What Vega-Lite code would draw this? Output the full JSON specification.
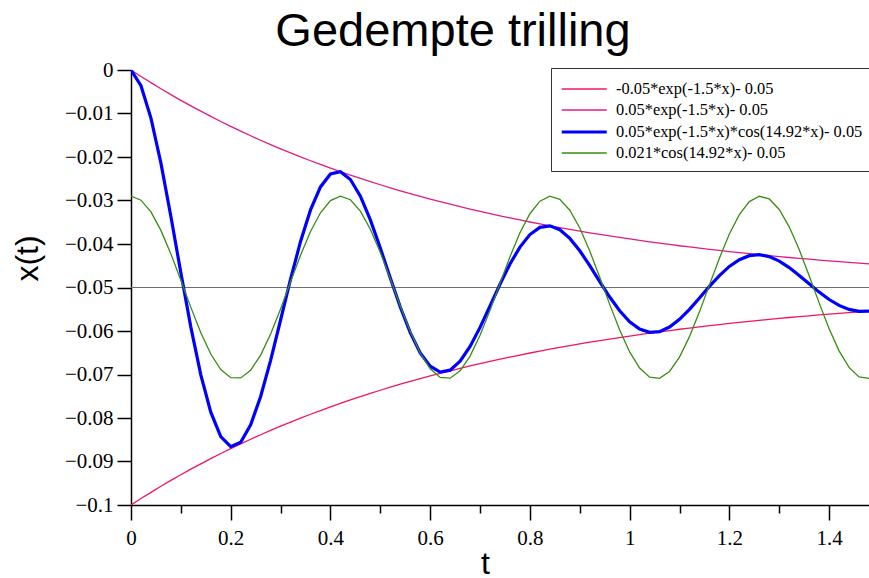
{
  "$schema": "https://vega.github.io/schema/vega-lite/v6.json",
  "autosize": "none",
  "width": 738,
  "height": 435,
  "padding": {"left": 131, "top": 70, "right": 0, "bottom": 73},
  "background": "white",
  "title": {
    "text": "Gedempte trilling",
    "font": "Liberation Sans",
    "fontSize": 47,
    "fontWeight": "normal",
    "color": "black",
    "anchor": "middle",
    "dx": -47,
    "offset": 3
  },
  "config": {
    "view": {"stroke": null},
    "axis": {
      "labelFont": "Liberation Serif",
      "labelFontSize": 21,
      "labelColor": "black",
      "tickColor": "black",
      "domainColor": "black",
      "domainWidth": 1.5,
      "tickWidth": 1.5,
      "grid": false,
      "labelFlush": false,
      "labelOverlap": false,
      "titleFont": "Liberation Sans",
      "titleFontSize": 32,
      "titleFontWeight": "normal",
      "titleColor": "black"
    },
    "legend": {
      "orient": "none",
      "legendX": 420,
      "legendY": -2,
      "symbolType": "M-1,0H3",
      "symbolSize": 506,
      "strokeColor": "#333333",
      "fillColor": "white",
      "padding": 9,
      "rowPadding": -7.5,
      "labelOffset": 30,
      "labelFont": "Liberation Serif",
      "labelFontSize": 16.4,
      "labelColor": "black",
      "labelLimit": 400
    }
  },
  "data": {
    "values": [
      {"t": 0, "L": -0.1, "U": 0, "B": 0, "G": -0.029},
      {"t": 0.02, "L": -0.09852, "U": -0.00148, "B": -0.00362, "G": -0.02993},
      {"t": 0.04, "L": -0.09709, "U": -0.00291, "B": -0.01105, "G": -0.03263},
      {"t": 0.06, "L": -0.0957, "U": -0.0043, "B": -0.02142, "G": -0.03687},
      {"t": 0.08, "L": -0.09435, "U": -0.00565, "B": -0.03367, "G": -0.04227},
      {"t": 0.1, "L": -0.09304, "U": -0.00697, "B": -0.04661, "G": -0.04835},
      {"t": 0.12, "L": -0.09176, "U": -0.00824, "B": -0.0591, "G": -0.05457},
      {"t": 0.14, "L": -0.09053, "U": -0.00947, "B": -0.07007, "G": -0.0604},
      {"t": 0.16, "L": -0.08933, "U": -0.01067, "B": -0.07866, "G": -0.0653},
      {"t": 0.18, "L": -0.08817, "U": -0.01183, "B": -0.08427, "G": -0.06885},
      {"t": 0.2, "L": -0.08704, "U": -0.01296, "B": -0.08658, "G": -0.07074},
      {"t": 0.22, "L": -0.08595, "U": -0.01405, "B": -0.08559, "G": -0.07079},
      {"t": 0.24, "L": -0.08488, "U": -0.01512, "B": -0.08157, "G": -0.06901},
      {"t": 0.26, "L": -0.08385, "U": -0.01615, "B": -0.07505, "G": -0.06554},
      {"t": 0.28, "L": -0.08285, "U": -0.01715, "B": -0.06674, "G": -0.0607},
      {"t": 0.3, "L": -0.08188, "U": -0.01812, "B": -0.05747, "G": -0.05492},
      {"t": 0.32, "L": -0.08094, "U": -0.01906, "B": -0.04808, "G": -0.0487},
      {"t": 0.34, "L": -0.08003, "U": -0.01998, "B": -0.03941, "G": -0.04259},
      {"t": 0.36, "L": -0.07914, "U": -0.02086, "B": -0.03216, "G": -0.03714},
      {"t": 0.38, "L": -0.07828, "U": -0.02172, "B": -0.02688, "G": -0.03283},
      {"t": 0.4, "L": -0.07744, "U": -0.02256, "B": -0.02391, "G": -0.03003},
      {"t": 0.42, "L": -0.07663, "U": -0.02337, "B": -0.02337, "G": -0.029},
      {"t": 0.44, "L": -0.07584, "U": -0.02416, "B": -0.02518, "G": -0.02983},
      {"t": 0.46, "L": -0.07508, "U": -0.02492, "B": -0.02902, "G": -0.03243},
      {"t": 0.48, "L": -0.07434, "U": -0.02566, "B": -0.03446, "G": -0.03659},
      {"t": 0.5, "L": -0.07362, "U": -0.02638, "B": -0.04093, "G": -0.04194},
      {"t": 0.52, "L": -0.07292, "U": -0.02708, "B": -0.04781, "G": -0.048},
      {"t": 0.54, "L": -0.07224, "U": -0.02776, "B": -0.05448, "G": -0.05423},
      {"t": 0.56, "L": -0.07159, "U": -0.02841, "B": -0.06037, "G": -0.06009},
      {"t": 0.58, "L": -0.07095, "U": -0.02905, "B": -0.06502, "G": -0.06506},
      {"t": 0.6, "L": -0.07033, "U": -0.02967, "B": -0.0681, "G": -0.0687},
      {"t": 0.62, "L": -0.06973, "U": -0.03027, "B": -0.06943, "G": -0.07068},
      {"t": 0.64, "L": -0.06915, "U": -0.03086, "B": -0.069, "G": -0.07084},
      {"t": 0.66, "L": -0.06858, "U": -0.03142, "B": -0.06695, "G": -0.06915},
      {"t": 0.68, "L": -0.06803, "U": -0.03197, "B": -0.06355, "G": -0.06578},
      {"t": 0.7, "L": -0.0675, "U": -0.0325, "B": -0.05917, "G": -0.061},
      {"t": 0.72, "L": -0.06698, "U": -0.03302, "B": -0.05425, "G": -0.05526},
      {"t": 0.74, "L": -0.06648, "U": -0.03352, "B": -0.04926, "G": -0.04905},
      {"t": 0.76, "L": -0.06599, "U": -0.03401, "B": -0.04461, "G": -0.04293},
      {"t": 0.78, "L": -0.06552, "U": -0.03448, "B": -0.04071, "G": -0.03743},
      {"t": 0.8, "L": -0.06506, "U": -0.03494, "B": -0.03783, "G": -0.03304},
      {"t": 0.82, "L": -0.06462, "U": -0.03539, "B": -0.03618, "G": -0.03015},
      {"t": 0.84, "L": -0.06418, "U": -0.03582, "B": -0.03583, "G": -0.02901},
      {"t": 0.86, "L": -0.06376, "U": -0.03624, "B": -0.03672, "G": -0.02973},
      {"t": 0.88, "L": -0.06336, "U": -0.03664, "B": -0.03871, "G": -0.03224},
      {"t": 0.9, "L": -0.06296, "U": -0.03704, "B": -0.04156, "G": -0.03632},
      {"t": 0.92, "L": -0.06258, "U": -0.03742, "B": -0.04498, "G": -0.04161},
      {"t": 0.94, "L": -0.06221, "U": -0.03779, "B": -0.04863, "G": -0.04765},
      {"t": 0.96, "L": -0.06185, "U": -0.03815, "B": -0.05219, "G": -0.05388},
      {"t": 0.98, "L": -0.0615, "U": -0.0385, "B": -0.05535, "G": -0.05978},
      {"t": 1.0, "L": -0.06116, "U": -0.03884, "B": -0.05787, "G": -0.06481},
      {"t": 1.02, "L": -0.06083, "U": -0.03917, "B": -0.05956, "G": -0.06853},
      {"t": 1.04, "L": -0.06051, "U": -0.03949, "B": -0.06032, "G": -0.07062},
      {"t": 1.06, "L": -0.0602, "U": -0.0398, "B": -0.06014, "G": -0.07088},
      {"t": 1.08, "L": -0.0599, "U": -0.04011, "B": -0.05909, "G": -0.0693},
      {"t": 1.1, "L": -0.0596, "U": -0.0404, "B": -0.05732, "G": -0.06601},
      {"t": 1.12, "L": -0.05932, "U": -0.04068, "B": -0.05502, "G": -0.0613},
      {"t": 1.14, "L": -0.05904, "U": -0.04096, "B": -0.05241, "G": -0.0556},
      {"t": 1.16, "L": -0.05878, "U": -0.04122, "B": -0.04975, "G": -0.0494},
      {"t": 1.18, "L": -0.05852, "U": -0.04148, "B": -0.04727, "G": -0.04326},
      {"t": 1.2, "L": -0.05827, "U": -0.04174, "B": -0.04516, "G": -0.03771},
      {"t": 1.22, "L": -0.05802, "U": -0.04198, "B": -0.0436, "G": -0.03325},
      {"t": 1.24, "L": -0.05778, "U": -0.04222, "B": -0.04268, "G": -0.03026},
      {"t": 1.26, "L": -0.05755, "U": -0.04245, "B": -0.04246, "G": -0.02903},
      {"t": 1.28, "L": -0.05733, "U": -0.04267, "B": -0.04289, "G": -0.02964},
      {"t": 1.3, "L": -0.05711, "U": -0.04289, "B": -0.04392, "G": -0.03206},
      {"t": 1.32, "L": -0.0569, "U": -0.0431, "B": -0.04542, "G": -0.03606},
      {"t": 1.34, "L": -0.0567, "U": -0.0433, "B": -0.04722, "G": -0.04129},
      {"t": 1.36, "L": -0.0565, "U": -0.0435, "B": -0.04916, "G": -0.0473},
      {"t": 1.38, "L": -0.05631, "U": -0.04369, "B": -0.05106, "G": -0.05354},
      {"t": 1.4, "L": -0.05612, "U": -0.04388, "B": -0.05276, "G": -0.05947},
      {"t": 1.42, "L": -0.05594, "U": -0.04406, "B": -0.05412, "G": -0.06456},
      {"t": 1.44, "L": -0.05577, "U": -0.04423, "B": -0.05504, "G": -0.06837},
      {"t": 1.46, "L": -0.0556, "U": -0.0444, "B": -0.05548, "G": -0.07055},
      {"t": 1.48, "L": -0.05543, "U": -0.04457, "B": -0.05541, "G": -0.07091}
    ]
  },
  "resolve": {"axis": {"x": "independent"}},
  "layer": [
    {
      "mark": {"type": "rule", "color": "#707070", "strokeWidth": 1.2},
      "encoding": {
        "x": {
          "datum": 0,
          "type": "quantitative",
          "scale": {"domain": [0, 1.48], "nice": false, "zero": false},
          "axis": {
            "orient": "bottom",
            "values": [0.1, 0.3, 0.5, 0.7, 0.9, 1.1, 1.3],
            "labels": false,
            "domain": false,
            "tickSize": 8,
            "title": null
          }
        },
        "x2": {"datum": 1.48},
        "y": {"datum": -0.05, "type": "quantitative"}
      }
    },
    {
      "transform": [{"fold": ["L", "U", "B", "G"], "as": ["key", "value"]}],
      "mark": {"type": "line", "interpolate": "linear", "clip": true},
      "encoding": {
        "x": {
          "field": "t",
          "type": "quantitative",
          "scale": {"domain": [0, 1.48], "nice": false, "zero": false},
          "axis": {
            "orient": "bottom",
            "values": [0, 0.2, 0.4, 0.6, 0.8, 1, 1.2, 1.4],
            "format": "~g",
            "tickSize": 15,
            "labelPadding": 7,
            "title": "t",
            "titlePadding": 0,
            "titleX": 354
          }
        },
        "y": {
          "field": "value",
          "type": "quantitative",
          "scale": {"domain": [-0.1, 0], "nice": false, "zero": false},
          "axis": {
            "values": [-0.1, -0.09, -0.08, -0.07, -0.06, -0.05, -0.04, -0.03, -0.02, -0.01, 0],
            "format": "~g",
            "tickSize": 14,
            "labelPadding": 4,
            "title": "x(t)",
            "titlePadding": 20,
            "titleY": 188
          }
        },
        "color": {
          "field": "key",
          "type": "nominal",
          "scale": {
            "domain": ["L", "U", "B", "G"],
            "range": ["#f5145f", "#e01c84", "#0000ff", "#3a8c12"]
          },
          "legend": {
            "title": null,
            "labelExpr": "datum.value == 'L' ? '\u00a0\u00a0-0.05*exp(-1.5*x)- 0.05' : datum.value == 'U' ? '0.05*exp(-1.5*x)- 0.05' : datum.value == 'B' ? '0.05*exp(-1.5*x)*cos(14.92*x)- 0.05' : '0.021*cos(14.92*x)- 0.05'"
          }
        },
        "strokeWidth": {
          "field": "key",
          "type": "nominal",
          "scale": {
            "type": "ordinal",
            "domain": ["L", "U", "B", "G"],
            "range": [1.3, 1.3, 3.2, 1.3]
          },
          "legend": {
            "title": null,
            "labelExpr": "datum.value == 'L' ? '\u00a0\u00a0-0.05*exp(-1.5*x)- 0.05' : datum.value == 'U' ? '0.05*exp(-1.5*x)- 0.05' : datum.value == 'B' ? '0.05*exp(-1.5*x)*cos(14.92*x)- 0.05' : '0.021*cos(14.92*x)- 0.05'"
          }
        }
      }
    }
  ]
}
